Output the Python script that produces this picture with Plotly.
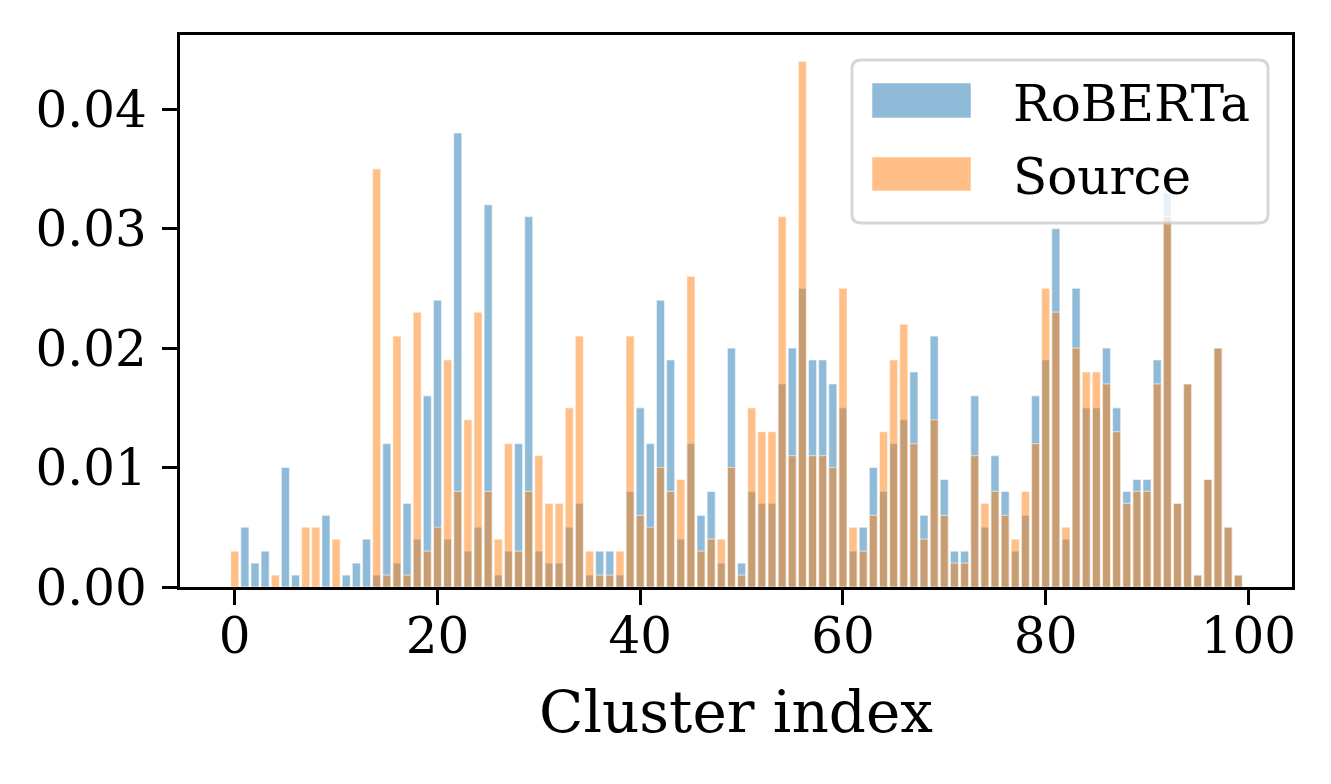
import plotly.graph_objects as go

clusters = list(range(100))

roberta = [0.000, 0.005, 0.002, 0.003, 0.000, 0.010, 0.001, 0.000, 0.000, 0.006,
           0.000, 0.001, 0.002, 0.004, 0.001, 0.012, 0.002, 0.007, 0.004, 0.016,
           0.024, 0.004, 0.038, 0.003, 0.005, 0.032, 0.001, 0.003, 0.012, 0.031,
           0.003, 0.002, 0.002, 0.005, 0.007, 0.001, 0.003, 0.003, 0.001, 0.008,
           0.015, 0.012, 0.024, 0.019, 0.004, 0.012, 0.006, 0.008, 0.002, 0.020,
           0.002, 0.008, 0.007, 0.007, 0.017, 0.020, 0.025, 0.019, 0.019, 0.017,
           0.015, 0.003, 0.005, 0.010, 0.008, 0.012, 0.014, 0.018, 0.006, 0.021,
           0.009, 0.003, 0.003, 0.016, 0.005, 0.011, 0.008, 0.003, 0.006, 0.016,
           0.019, 0.030, 0.004, 0.025, 0.015, 0.015, 0.020, 0.015, 0.008, 0.009,
           0.009, 0.019, 0.033, 0.007, 0.017, 0.001, 0.009, 0.020, 0.005, 0.001]

source = [0.003, 0.000, 0.000, 0.000, 0.001, 0.000, 0.000, 0.005, 0.005, 0.000,
          0.004, 0.000, 0.000, 0.000, 0.035, 0.001, 0.021, 0.001, 0.023, 0.003,
          0.005, 0.019, 0.008, 0.014, 0.023, 0.008, 0.004, 0.012, 0.003, 0.008,
          0.011, 0.007, 0.007, 0.015, 0.021, 0.003, 0.001, 0.001, 0.003, 0.021,
          0.006, 0.005, 0.010, 0.008, 0.009, 0.026, 0.003, 0.004, 0.004, 0.010,
          0.001, 0.015, 0.013, 0.013, 0.031, 0.011, 0.044, 0.011, 0.011, 0.010,
          0.025, 0.005, 0.003, 0.006, 0.013, 0.019, 0.022, 0.012, 0.004, 0.014,
          0.006, 0.002, 0.002, 0.011, 0.007, 0.008, 0.006, 0.004, 0.008, 0.012,
          0.025, 0.023, 0.005, 0.020, 0.018, 0.018, 0.017, 0.013, 0.007, 0.008,
          0.008, 0.017, 0.031, 0.007, 0.017, 0.001, 0.009, 0.020, 0.005, 0.001]

series_names = ["RoBERTa", "Source"]
x_ticks = [0, 20, 40, 60, 80, 100]
y_ticks = [0.00, 0.01, 0.02, 0.03, 0.04]

BLUE = "rgba(31,119,180,0.5)"
ORANGE = "rgba(255,127,14,0.5)"
EDGE = "rgba(255,255,255,0.5)"
FONT = "DejaVu Serif"

fig = go.Figure()
fig.add_trace(go.Bar(x=clusters, y=roberta, name=series_names[0], width=0.8,
                     marker=dict(color=BLUE, line=dict(color=EDGE, width=1.2)),
                     showlegend=False))
fig.add_trace(go.Bar(x=clusters, y=source, name=series_names[1], width=0.8,
                     marker=dict(color=ORANGE, line=dict(color=EDGE, width=1.2)),
                     showlegend=False))

# page body has an 8px margin; the figure is sized so the plot lands where the reference has it
OFF = 8
W, H = 1331 - OFF, 784 - OFF
L, R, T, B = 180 - OFF, 39, 35 - OFF, 197
pw, ph = W - L - R, H - T - B

def px(xp):
    return (xp - OFF - L) / pw

def py(yp):
    return (H - B - (yp - OFF)) / ph

# legend box (rounded) drawn in paper coordinates
x0, x1, y0, y1 = px(852), px(1268), py(223), py(60)
rx, ry = 9 / pw, 9 / ph
path = (f"M {x0+rx},{y0} L {x1-rx},{y0} Q {x1},{y0} {x1},{y0+ry} "
        f"L {x1},{y1-ry} Q {x1},{y1} {x1-rx},{y1} L {x0+rx},{y1} "
        f"Q {x0},{y1} {x0},{y1-ry} L {x0},{y0+ry} Q {x0},{y0} {x0+rx},{y0} Z")
shapes = [dict(type="path", path=path, xref="paper", yref="paper",
               fillcolor="rgba(255,255,255,0.8)",
               line=dict(color="rgba(204,204,204,0.8)", width=3), layer="above")]
patches = [(BLUE, 83, 118), (ORANGE, 157, 191)]
for col, ya, yb in patches:
    shapes.append(dict(type="rect", xref="paper", yref="paper",
                       x0=px(872), x1=px(971), y0=py(yb), y1=py(ya),
                       fillcolor=col, line=dict(color=EDGE, width=1), layer="above"))
annotations = []
for name, (col, ya, yb) in zip(series_names, patches):
    annotations.append(dict(text=name, xref="paper", yref="paper",
                            x=px(1011), y=py((ya + yb) / 2 + 3), xanchor="left",
                            yanchor="middle", showarrow=False,
                            font=dict(family=FONT, size=50, color="black")))

fig.update_layout(
    width=W, height=H,
    margin=dict(l=L, r=R, t=T, b=B, pad=0, autoexpand=False),
    barmode="overlay",
    paper_bgcolor="white", plot_bgcolor="white",
    font=dict(family=FONT, size=50, color="black"),
    shapes=shapes, annotations=annotations,
    showlegend=False,
)
fig.update_xaxes(range=[-5.4, 104.3], tickvals=x_ticks, ticktext=[str(v) for v in x_ticks],
                 showline=True, mirror=True, linecolor="black", linewidth=3.3,
                 ticks="outside", ticklen=15, tickwidth=3.3, tickcolor="black",
                 showgrid=False, zeroline=False, ticklabelstandoff=-12,
                 tickfont=dict(family=FONT, size=50),
                 title=dict(text="Cluster index", font=dict(family=FONT, size=58), standoff=28))
fig.update_yaxes(range=[0, 0.0462], tickvals=y_ticks, ticktext=[f"{v:.2f}" for v in y_ticks],
                 showline=True, mirror=True, linecolor="black", linewidth=3.3,
                 ticks="outside", ticklen=15, tickwidth=3.3, tickcolor="black",
                 showgrid=False, zeroline=False, ticklabelstandoff=5,
                 tickfont=dict(family=FONT, size=50))

fig.write_html("out.html")
